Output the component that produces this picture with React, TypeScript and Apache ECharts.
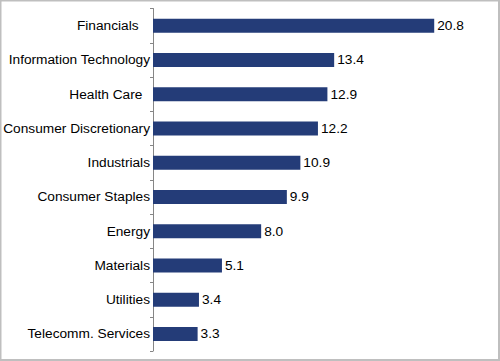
import React, { useEffect, useRef } from "react";
import * as echarts from "echarts";

const categories = [
  "Financials",
  "Information Technology",
  "Health Care",
  "Consumer Discretionary",
  "Industrials",
  "Consumer Staples",
  "Energy",
  "Materials",
  "Utilities",
  "Telecomm. Services",
];
const values = [20.8, 13.4, 12.9, 12.2, 10.9, 9.9, 8.0, 5.1, 3.4, 3.3];
// trailing spaces present in some original category labels
const trailingSpaces: Record<string, number> = { Financials: 3, "Health Care": 2 };

export default function App() {
  const ref = useRef<HTMLDivElement>(null);
  useEffect(() => {
    if (!ref.current) return;
    const chart = echarts.init(ref.current, undefined, { renderer: "svg" });
    const font = "'Liberation Sans', Arial, sans-serif";
    chart.setOption({
      animation: false,
      backgroundColor: "#ffffff",
      grid: {
        left: 153,
        right: 9,
        top: 8.5,
        bottom: 10,
        containLabel: false,
        outerBoundsMode: "none",
      },
      xAxis: {
        type: "value",
        min: 0,
        max: 25,
        show: false,
      },
      yAxis: {
        type: "category",
        inverse: true,
        data: categories,
        axisLine: { show: true, lineStyle: { color: "#868686", width: 1 } },
        axisTick: { show: true, length: 3, lineStyle: { color: "#868686" } },
        axisLabel: {
          margin: 3,
          color: "#000000",
          fontSize: 13.7,
          fontFamily: font,
          formatter: (v: string) => v + "\u00a0".repeat(trailingSpaces[v] || 0),
        },
        splitLine: { show: false },
      },
      series: [
        {
          type: "bar",
          data: values,
          barWidth: 14,
          itemStyle: { color: "#243c78" },
          label: {
            show: true,
            position: "right",
            distance: 3,
            color: "#000000",
            fontSize: 13.7,
            fontFamily: font,
            formatter: (p: any) => Number(p.value).toFixed(1),
          },
        },
      ],
      graphic: [
        {
          type: "rect",
          shape: { x: 0.5, y: 0.5, width: 498.5, height: 359.5 },
          style: { fill: "none", stroke: "#bfbfbf", lineWidth: 2 },
          silent: true,
        },
      ],
    });
    return () => chart.dispose();
  }, []);
  return (
    <div
      ref={ref}
      style={{ position: "absolute", left: 0, top: 0, width: 500, height: 361 }}
    />
  );
}
